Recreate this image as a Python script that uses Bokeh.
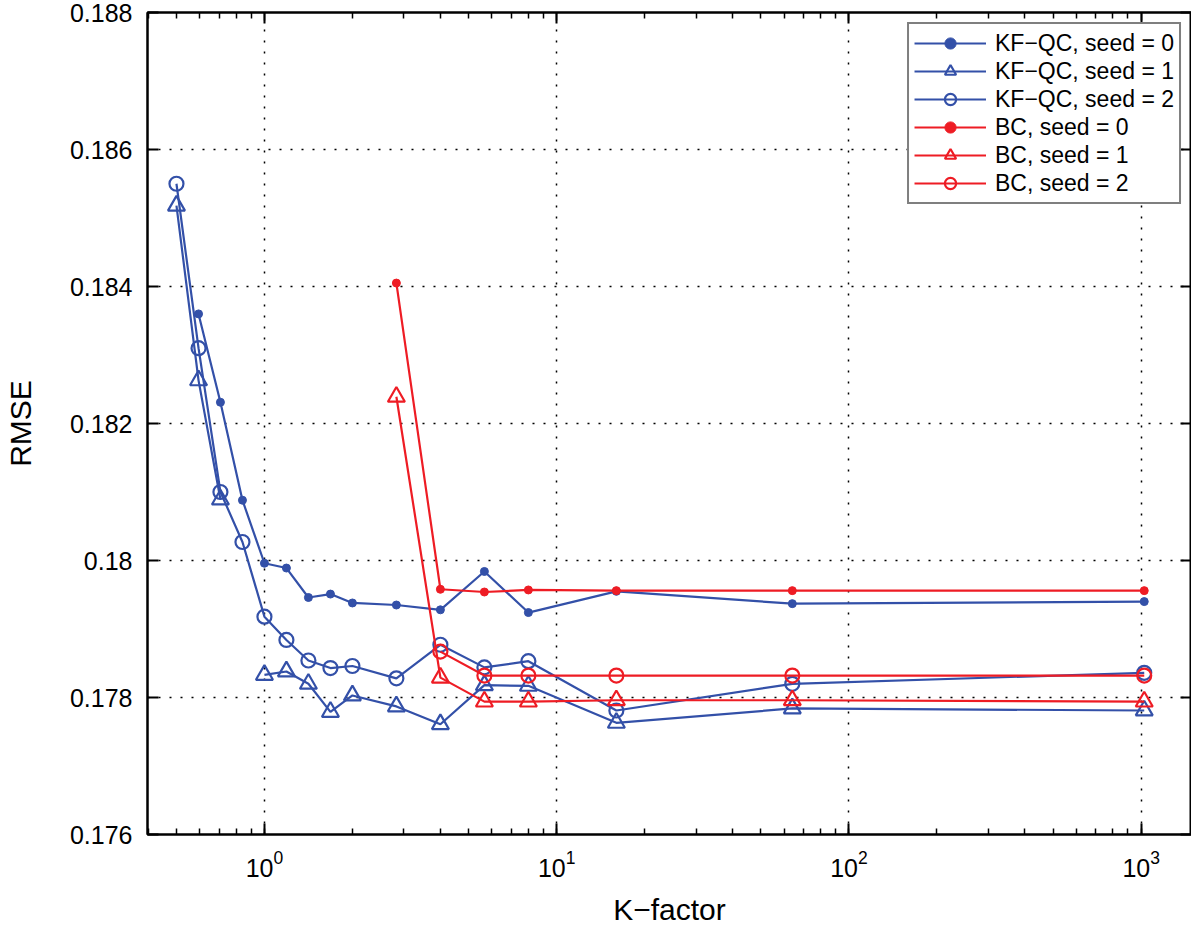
from bokeh.plotting import figure
from bokeh.models import (Range1d, LogAxis, LinearAxis, LogTicker, SingleIntervalTicker,
                          CustomJSTickFormatter, Legend, LegendItem)
from bokeh.embed import file_html
from bokeh.resources import INLINE

nan = float("nan")

# K-factor values
k_kf0 = [0.595, 0.707, 0.841, 1.0, 1.189, 1.414, 1.682, 2.0, 2.828, 4.0, 5.657, 8.0, 16.0, 64.0, 1024.0]
k_kf = [0.5, 0.595, 0.707, 0.841, 1.0, 1.189, 1.414, 1.682, 2.0, 2.828, 4.0, 5.657, 8.0, 16.0, 64.0, 1024.0]
k_bc01 = [2.828, 4.0, 5.657, 8.0, 16.0, 64.0, 1024.0]
k_bc2 = [4.0, 5.657, 8.0, 16.0, 64.0, 1024.0]

# RMSE values
kf_seed0 = [0.18360, 0.18231, 0.18088, 0.17996, 0.17989, 0.17946, 0.17951, 0.17938, 0.17935,
            0.17928, 0.17984, 0.17924, 0.17955, 0.17937, 0.17940]
kf_seed1 = [0.18518, 0.18263, 0.18089, nan, 0.17833, 0.17838, 0.17820, 0.17779, 0.17803, 0.17787,
            0.17761, 0.17818, 0.17817, 0.17763, 0.17784, 0.17781]
kf_seed2 = [0.18550, 0.18310, 0.18100, 0.18027, 0.17918, 0.17884, 0.17854, 0.17843, 0.17846, 0.17828,
            0.17877, 0.17844, 0.17853, 0.17781, 0.17820, 0.17836]
bc_seed0 = [0.18405, 0.17958, 0.17954, 0.17957, 0.17956, 0.17956, 0.17956]
bc_seed1 = [0.18239, 0.17829, 0.17794, 0.17794, 0.17796, 0.17796, 0.17794]
bc_seed2 = [0.17867, 0.17832, 0.17832, 0.17832, 0.17832, 0.17832]

labels = ["KF\u2212QC, seed = 0", "KF\u2212QC, seed = 1", "KF\u2212QC, seed = 2",
          "BC, seed = 0", "BC, seed = 1", "BC, seed = 2"]

BLUE = "#3350A8"
RED = "#EE1C24"
FONT = "Liberation Sans"

p = figure(width=1191, height=928, x_axis_type="log",
           x_range=Range1d(0.398, 1486), y_range=Range1d(0.176, 0.188),
           output_backend="svg", toolbar_location=None,
           min_border_left=144, min_border_right=0, min_border_top=12, min_border_bottom=90)
p.background_fill_color = "white"
p.border_fill_color = "white"
p.outline_line_color = "black"
p.outline_line_width = 2

series = [
    (k_kf0, kf_seed0, BLUE, "dot"),
    (k_kf, kf_seed1, BLUE, "triangle"),
    (k_kf, kf_seed2, BLUE, "circle"),
    (k_bc01, bc_seed0, RED, "dot"),
    (k_bc01, bc_seed1, RED, "triangle"),
    (k_bc2, bc_seed2, RED, "circle"),
]

items = []
for (xs, ys, col, mk), lab in zip(series, labels):
    lr = p.line(xs, ys, line_color=col, line_width=2.2)
    if mk == "dot":
        sr = p.scatter(xs, ys, marker="circle", size=8, fill_color=col, line_color=col)
    elif mk == "triangle":
        sr = p.scatter(xs, ys, marker="triangle", size=17, fill_color=None, line_color=col, line_width=2.2)
    else:
        sr = p.scatter(xs, ys, marker="circle", size=14, fill_color=None, line_color=col, line_width=2.2)
    items.append(LegendItem(label=lab, renderers=[lr, sr]))

# axes styling
def style_axis(ax):
    ax.axis_line_color = "black"
    ax.axis_line_width = 2
    ax.major_tick_in = 11
    ax.major_tick_out = 0
    ax.major_tick_line_width = 2
    ax.major_tick_line_color = "black"
    ax.minor_tick_in = 6
    ax.minor_tick_out = 0
    ax.minor_tick_line_width = 1.5
    ax.minor_tick_line_color = "black"
    ax.major_label_text_font = FONT
    ax.major_label_text_color = "black"
    ax.axis_label_text_font = FONT
    ax.axis_label_text_font_style = "normal"
    ax.axis_label_text_color = "black"

xa = p.xaxis[0]
ya = p.yaxis[0]
xa.ticker = LogTicker(num_minor_ticks=10)
ya.ticker = SingleIntervalTicker(interval=0.002, num_minor_ticks=0)
ya.formatter = CustomJSTickFormatter(code="return tick.toFixed(3).replace(/0+$/, '');")
style_axis(xa)
style_axis(ya)
ya.minor_tick_line_color = None
xa.major_label_text_font_size = "25px"
ya.major_label_text_font_size = "25px"
xa.major_label_standoff = 15
ya.major_label_standoff = 15
xa.axis_label = "K\u2212factor"
ya.axis_label = "RMSE"
xa.axis_label_text_font_size = "30px"
ya.axis_label_text_font_size = "30px"
xa.axis_label_standoff = 13
ya.axis_label_standoff = 30

blank = CustomJSTickFormatter(code="return '';")

top = LogAxis(ticker=LogTicker(num_minor_ticks=10), formatter=blank)
style_axis(top)
top.major_label_text_font_size = "0px"
top.major_label_text_color = None
top.major_label_standoff = 0
p.add_layout(top, "above")

right = LinearAxis(ticker=SingleIntervalTicker(interval=0.002, num_minor_ticks=0), formatter=blank)
style_axis(right)
right.minor_tick_line_color = None
right.major_label_text_font_size = "0px"
right.major_label_text_color = None
right.major_label_standoff = 0
p.add_layout(right, "right")

for g in (p.xgrid[0], p.ygrid[0]):
    g.grid_line_color = "black"
    g.grid_line_width = 1.5
    g.grid_line_dash = "2 9"

legend = Legend(items=items, location="top_right", margin=10)
legend.label_text_font = FONT
legend.label_text_font_size = "23px"
legend.label_text_color = "black"
legend.glyph_width = 72
legend.glyph_height = 28
legend.label_height = 28
legend.spacing = 0
legend.padding = 5
legend.label_standoff = 9
legend.border_line_color = "black"
legend.border_line_width = 2
legend.background_fill_color = "white"
legend.background_fill_alpha = 1
p.add_layout(legend)

open("out.html", "w").write(file_html(p, INLINE, "plot"))
